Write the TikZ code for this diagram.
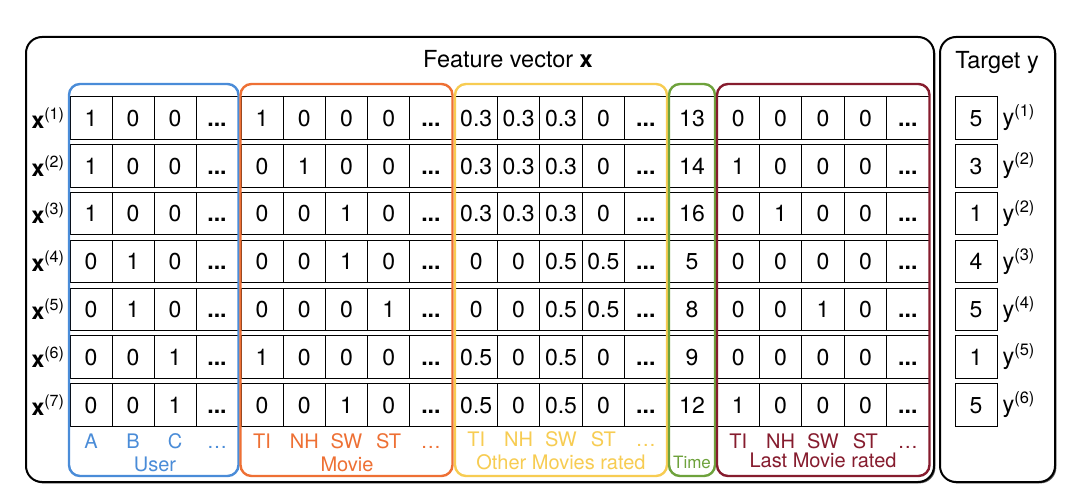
\documentclass[tikz,border=0pt]{standalone}
\usepackage{fontspec}
\setmainfont{TeX Gyre Heros}
\usetikzlibrary{shadows}

\definecolor{userblue}{HTML}{4A8CD8}
\definecolor{movieorange}{HTML}{EE7034}
\definecolor{otheryellow}{HTML}{F7CC52}
\definecolor{timegreen}{HTML}{6EA23C}
\definecolor{lastred}{HTML}{861C2E}

\newcommand\celldots{\textbf{...}}
\def\colx{{91,133,175,217,262.1,304.3,346.5,388.7,430.9,476.2,518.6,561,603.4,645.8,692,738.2,780.6,823,865.4,907.8,976}}
\def\colw{{42,42,42,42,42.2,42.2,42.2,42.2,42.2,42.4,42.4,42.4,42.4,42.4,46,42.4,42.4,42.4,42.4,42.4,42}}

\tikzset{
    bigbox/.style={draw, fill=white, line width=2pt, rounded corners=16pt,
        drop shadow={shadow xshift=1.4pt, shadow yshift=-1.4pt, opacity=1, fill=black!65}},
    group/.style={line width=2.4pt, rounded corners=11pt},
    cell/.style={draw, line width=0.8pt, minimum height=42.5pt, inner sep=0pt,
        text height=16.5pt, text depth=0pt, font=\fontsize{23}{27}\selectfont},
    rowlab/.style={font=\fontsize{23}{27}\selectfont},
    title/.style={font=\fontsize{23.5}{28}\selectfont},
    lab/.style={anchor=base, font=\fontsize{20}{24}\selectfont},
}

\begin{document}
\begin{tikzpicture}[x=1pt,y=-1pt]
    \useasboundingbox (0,0) rectangle (1080,503);

    % outer boxes
    \draw[bigbox] (26,37) rectangle (934,482);
    \draw[bigbox] (940,37) rectangle (1055,482);
    \node[title] (feat) at (508,59) {Feature vector \textbf{x}};
    \node[title] (targ) at (997,62) {Target y};

    % rows: 20 feature cells, target, index of y
    \foreach \vals [count=\i] in {
        {1,0,0,\celldots,1,0,0,0,\celldots,0.3,0.3,0.3,0,\celldots,13,0,0,0,0,\celldots,5,1},
        {1,0,0,\celldots,0,1,0,0,\celldots,0.3,0.3,0.3,0,\celldots,14,1,0,0,0,\celldots,3,2},
        {1,0,0,\celldots,0,0,1,0,\celldots,0.3,0.3,0.3,0,\celldots,16,0,1,0,0,\celldots,1,2},
        {0,1,0,\celldots,0,0,1,0,\celldots,0,0,0.5,0.5,\celldots,5,0,0,0,0,\celldots,4,3},
        {0,1,0,\celldots,0,0,0,1,\celldots,0,0,0.5,0.5,\celldots,8,0,0,1,0,\celldots,5,4},
        {0,0,1,\celldots,1,0,0,0,\celldots,0.5,0,0.5,0,\celldots,9,0,0,0,0,\celldots,1,5},
        {0,0,1,\celldots,0,0,1,0,\celldots,0.5,0,0.5,0,\celldots,12,1,0,0,0,\celldots,5,6}} {
        \pgfmathsetmacro\ry{118+47.8*(\i-1)}
        \node[rowlab] (x\i) at (48,\ry) {\textbf{x}\textsuperscript{(\i)}};
        \foreach \v [count=\j] in \vals {
            \ifnum\j<22
                \pgfmathsetmacro\cx{\colx[\j-1]}
                \pgfmathsetmacro\cw{\colw[\j-1]}
                \node[cell, minimum width=\cw pt] (c-\i-\j) at (\cx,\ry) {\v};
            \else
                \node[title, anchor=west] (y\i) at (999,\ry) {y\textsuperscript{(\v)}};
            \fi
        }
    }

    % feature groups
    \draw[group, userblue] (69,84) rectangle (238.5,476);
    \draw[group, movieorange] (240.5,84) rectangle (452.5,476);
    \draw[group, otheryellow] (455,84) rectangle (667,476);
    \draw[group, timegreen] (669,84) rectangle (715,476);
    \draw[group, lastred] (717,84) rectangle (929.5,476);

    % column labels
    \foreach \t [count=\k from 0] in {A,B,C,\dots}
        \node[lab, text=userblue] (u\k) at (91+42*\k,448) {\t};
    \foreach \t [count=\k from 0] in {TI,NH,SW,ST,\dots}
        \node[lab, text=movieorange] (m\k) at (262.1+42.2*\k,448) {\t};
    \foreach \t [count=\k from 0] in {TI,NH,SW,ST,\dots}
        \node[lab, text=otheryellow] (o\k) at (476.2+42.4*\k,446) {\t};
    \foreach \t [count=\k from 0] in {TI,NH,SW,ST,\dots}
        \node[lab, text=lastred] (l\k) at (738.2+42.4*\k,448) {\t};

    \node[lab, text=userblue] (user) at (155,471) {User};
    \node[lab, text=movieorange] (movie) at (347,471) {Movie};
    \node[lab, text=otheryellow] (other) at (561,469) {Other Movies rated};
    \node[lab, text=timegreen, font=\fontsize{17}{20}\selectfont] (time) at (692,468) {Time};
    \node[lab, text=lastred] (last) at (823,467) {Last Movie rated};
\end{tikzpicture}
\end{document}
